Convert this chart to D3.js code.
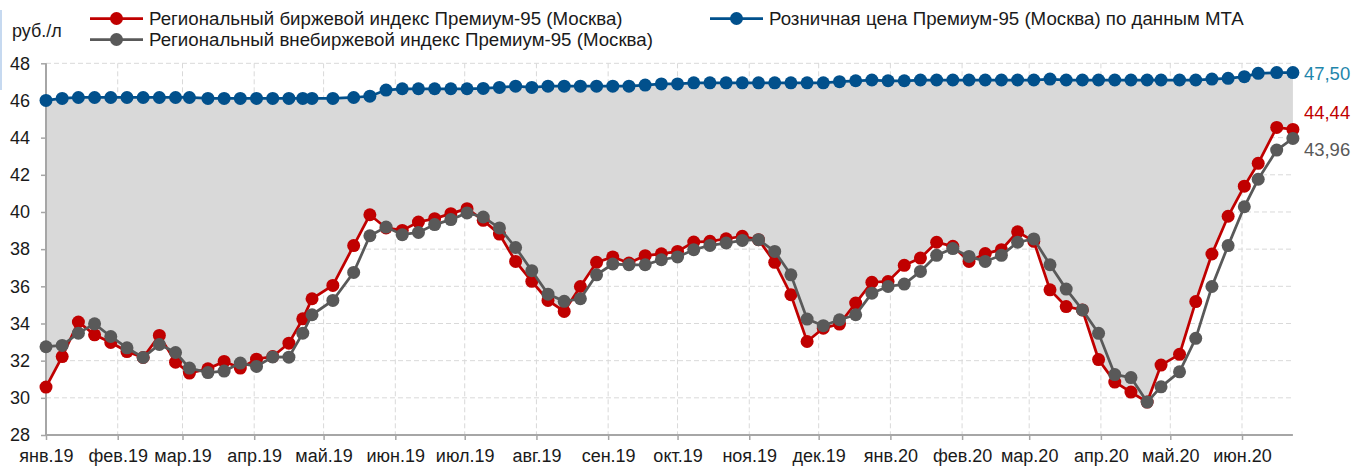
<!DOCTYPE html>
<html>
<head>
<meta charset="utf-8">
<script src="https://cdn.jsdelivr.net/npm/d3@7"></script>
<style>
  html, body { margin: 0; padding: 0; background: #fff; }
  svg { display: block; font-family: "Liberation Sans", Arial, sans-serif; }
</style>
</head>
<body>
<svg id="chart" width="1353" height="468"></svg>
<script>
// Weekly observation dates
const dates = [
  "2019-01-01","2019-01-08","2019-01-15","2019-01-22","2019-01-29","2019-02-05","2019-02-12","2019-02-19","2019-02-26","2019-03-04",
  "2019-03-12","2019-03-19","2019-03-26","2019-04-02","2019-04-09","2019-04-16","2019-04-22","2019-04-26","2019-05-05","2019-05-14",
  "2019-05-21","2019-05-28","2019-06-04","2019-06-11","2019-06-18","2019-06-25","2019-07-02","2019-07-09","2019-07-16","2019-07-23",
  "2019-07-30","2019-08-06","2019-08-13","2019-08-20","2019-08-27","2019-09-03","2019-09-10","2019-09-17","2019-09-24","2019-10-01",
  "2019-10-08","2019-10-15","2019-10-22","2019-10-29","2019-11-05","2019-11-12","2019-11-19","2019-11-26","2019-12-03","2019-12-10",
  "2019-12-17","2019-12-24","2019-12-31","2020-01-07","2020-01-14","2020-01-21","2020-01-28","2020-02-04","2020-02-11","2020-02-18",
  "2020-02-25","2020-03-03","2020-03-10","2020-03-17","2020-03-24","2020-03-31","2020-04-07","2020-04-14","2020-04-21","2020-04-27",
  "2020-05-05","2020-05-12","2020-05-19","2020-05-26","2020-06-02","2020-06-08","2020-06-16","2020-06-23"
];

// Regional exchange index, Premium-95 (Moscow), rub/l
const exchangeIndex = [
  30.58,32.22,34.08,33.39,32.98,32.49,32.17,33.36,31.92,31.33,
  31.56,31.96,31.60,32.08,32.22,32.94,34.25,35.33,36.05,38.19,
  39.85,39.14,39.01,39.46,39.64,39.91,40.18,39.55,38.81,37.34,
  36.27,35.24,34.65,35.99,37.29,37.58,37.25,37.65,37.75,37.88,
  38.38,38.42,38.56,38.69,38.51,37.29,35.55,33.03,33.75,33.97,
  35.10,36.22,36.26,37.13,37.52,38.37,38.15,37.34,37.76,37.97,
  38.93,38.42,35.81,34.91,34.73,32.06,30.85,30.31,29.77,31.76,
  32.34,35.18,37.74,39.77,41.39,42.62,44.55,44.44
];

// Regional OTC index, Premium-95 (Moscow), rub/l
const otcIndex = [
  32.75,32.82,33.48,33.98,33.30,32.69,32.17,32.87,32.44,31.60,
  31.36,31.44,31.87,31.69,32.20,32.19,33.48,34.47,35.24,36.75,
  38.72,39.19,38.78,38.90,39.32,39.59,39.95,39.73,39.14,38.09,
  36.84,35.58,35.19,35.33,36.62,37.20,37.16,37.16,37.43,37.58,
  37.97,38.20,38.33,38.47,38.51,37.88,36.62,34.24,33.88,34.20,
  34.47,35.63,35.99,36.12,36.80,37.67,38.03,37.61,37.34,37.67,
  38.37,38.55,37.16,35.85,34.73,33.47,31.25,31.09,29.77,30.59,
  31.40,33.20,35.99,38.19,40.28,41.76,43.33,43.96
];

// Retail price, Premium-95 (Moscow), rub/l
const retailPrice = [
  46.00,46.11,46.16,46.16,46.16,46.16,46.16,46.16,46.16,46.16,
  46.11,46.11,46.11,46.11,46.11,46.11,46.11,46.11,46.11,46.16,
  46.23,46.56,46.63,46.63,46.63,46.63,46.63,46.65,46.70,46.77,
  46.70,46.77,46.77,46.77,46.77,46.77,46.77,46.83,46.89,46.89,
  46.95,46.95,46.95,46.95,46.95,46.95,46.95,46.95,46.95,47.01,
  47.06,47.10,47.06,47.06,47.10,47.10,47.10,47.10,47.10,47.10,
  47.10,47.10,47.15,47.10,47.10,47.10,47.10,47.10,47.10,47.10,
  47.10,47.10,47.15,47.19,47.28,47.46,47.50,47.50
];

const monthNames = ["янв","фев","мар","апр","май","июн","июл","авг","сен","окт","ноя","дек"];
const yTicks = [28,30,32,34,36,38,40,42,44,46,48];

const legendItems = [
  { label: "Региональный биржевой индекс Премиум-95 (Москва)", color: "#c00000" },
  { label: "Региональный внебиржевой индекс Премиум-95 (Москва)", color: "#595959" },
  { label: "Розничная цена Премиум-95 (Москва) по данным МТА", color: "#01508c" }
];

const parse = d3.utcParse("%Y-%m-%d");
const rows = dates.map((d, i) => ({
  date: parse(d),
  ex: exchangeIndex[i],
  otc: otcIndex[i],
  retail: retailPrice[i]
}));

const svg = d3.select("#chart");
const plotLeft = 46, plotRight = 1292.9, plotTop = 63.3, plotBottom = 435;

const x = d3.scaleUtc()
  .domain([parse(dates[0]), parse(dates[dates.length - 1])])
  .range([plotLeft, plotRight]);
const y = d3.scaleLinear().domain([28, 48]).range([plotBottom, plotTop]);

const monthTicks = d3.utcMonth.range(parse("2019-01-01"), parse("2020-06-02"));
const fmtMonth = d => monthNames[d.getUTCMonth()] + "." + String(d.getUTCFullYear()).slice(2);

// grid
const grid = svg.append("g");
grid.selectAll("line.h").data(yTicks.filter(v => v > 28)).join("line")
  .attr("x1", plotLeft).attr("x2", plotRight)
  .attr("y1", d => y(d)).attr("y2", d => y(d))
  .attr("stroke", "#d9d9d9").attr("stroke-width", 1).attr("stroke-dasharray", "5,3");
grid.selectAll("line.v").data(monthTicks.slice(1)).join("line")
  .attr("x1", d => x(d)).attr("x2", d => x(d))
  .attr("y1", plotTop).attr("y2", plotBottom)
  .attr("stroke", "#d9d9d9").attr("stroke-width", 1).attr("stroke-dasharray", "5,3");

// shaded gap between retail price and exchange index
const area = d3.area()
  .x(d => x(d.date))
  .y0(d => y(d.ex))
  .y1(d => y(d.retail));
svg.append("path").datum(rows).attr("d", area).attr("fill", "#d9d9d9");

// axes
const yAxis = svg.append("g").attr("transform", `translate(${plotLeft},0)`)
  .call(d3.axisLeft(y).tickValues(yTicks).tickSize(5).tickPadding(11).tickFormat(d3.format("d")));
const xAxis = svg.append("g").attr("transform", `translate(0,${plotBottom})`)
  .call(d3.axisBottom(x).tickValues(monthTicks).tickSize(5).tickPadding(9).tickFormat(fmtMonth));
[yAxis, xAxis].forEach(g => {
  g.select(".domain").attr("stroke", "#a6a6a6").attr("stroke-width", 2);
  g.selectAll(".tick line").attr("stroke", "#a6a6a6").attr("stroke-width", 1.5);
  g.selectAll(".tick text").attr("fill", "#1a1a1a")
    .style("font-size", "18px").style("font-family", "'Liberation Sans', Arial, sans-serif");
});
xAxis.select(".domain").attr("d", `M${plotLeft},0H${plotRight}`);
yAxis.select(".domain").attr("d", `M0,${plotBottom}V${plotTop}`);

// series
function drawSeries(key, color, width) {
  const line = d3.line().x(d => x(d.date)).y(d => y(d[key]));
  const g = svg.append("g");
  g.append("path").datum(rows).attr("d", line)
    .attr("fill", "none").attr("stroke", color).attr("stroke-width", width);
  g.selectAll("circle").data(rows).join("circle")
    .attr("cx", d => x(d.date)).attr("cy", d => y(d[key]))
    .attr("r", 6.5).attr("fill", color);
}
drawSeries("retail", "#01508c", 2.75);
drawSeries("ex", "#c00000", 2.75);
drawSeries("otc", "#595959", 2.75);

// end value labels
const last = rows[rows.length - 1];
const endLabels = [
  { v: last.retail, dy: 7, color: "#1f86ab" },
  { v: last.ex, dy: -10, color: "#c00000" },
  { v: last.otc, dy: 18, color: "#595959" }
];
svg.selectAll("text.end").data(endLabels).join("text")
  .attr("x", plotRight + 11).attr("y", d => y(d.v) + d.dy)
  .attr("fill", d => d.color).style("font-size", "18.5px")
  .text(d => d3.format(".2f")(d.v).replace(".", ","));

// unit label
svg.append("text").attr("x", 12).attr("y", 37).attr("fill", "#1a1a1a")
  .style("font-size", "18px").text("руб./л");

// legend
const legendPos = [
  { lx: 90, ly: 18.5 },
  { lx: 90, ly: 39.5 },
  { lx: 710, ly: 18.5 }
];
legendItems.forEach((item, i) => {
  const p = legendPos[i];
  const g = svg.append("g");
  g.append("line").attr("x1", p.lx).attr("x2", p.lx + 53)
    .attr("y1", p.ly).attr("y2", p.ly).attr("stroke", item.color).attr("stroke-width", 2.75);
  g.append("circle").attr("cx", p.lx + 26.5).attr("cy", p.ly).attr("r", 6.5).attr("fill", item.color);
  g.append("text").attr("x", p.lx + 59).attr("y", p.ly + 6.5).attr("fill", "#1a1a1a")
    .style("font-size", "18.7px").text(item.label);
});

// thin accent at the left edge
svg.append("line").attr("x1", 1).attr("x2", 1).attr("y1", 10).attr("y2", 90)
  .attr("stroke", "#c6d9f0").attr("stroke-width", 2);
</script>
</body>
</html>
